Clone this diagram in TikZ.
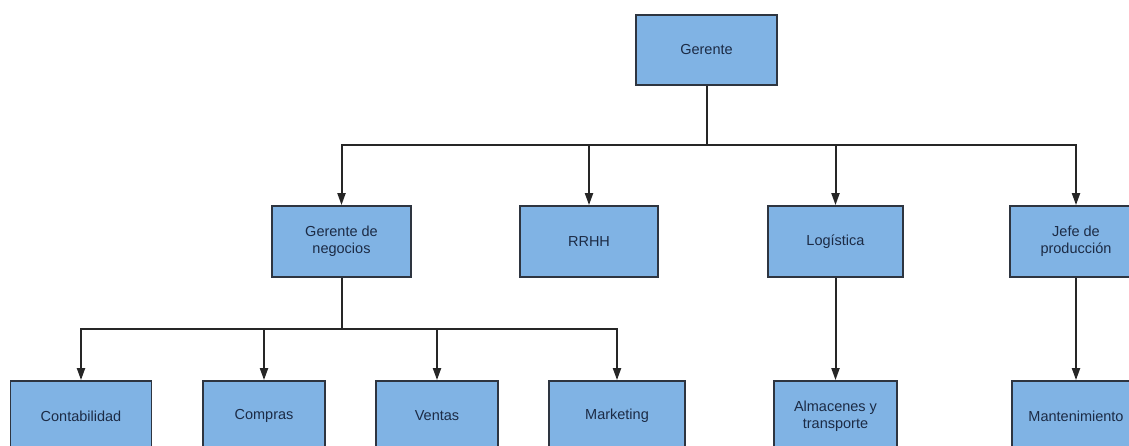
\documentclass[tikz,border=0pt]{standalone}
\usepackage{fontspec}
\setmainfont{Liberation Sans}
\usetikzlibrary{arrows.meta}
\definecolor{boxfill}{HTML}{80B3E4}
\definecolor{boxline}{HTML}{2E3540}
\definecolor{boxtext}{HTML}{1C2B45}
\tikzset{
  orgbox/.style={draw=boxline, line width=1.8pt, fill=boxfill, text=boxtext,
    align=center, inner sep=0pt, font=\fontsize{14.5}{17}\selectfont},
  conn/.style={line width=2pt, draw=black!85, -{Triangle[length=12pt,width=8pt]}},
  plain/.style={line width=2pt, draw=black!85}
}
\begin{document}
\begin{tikzpicture}[x=1pt,y=-1pt]
\useasboundingbox (0,0) rectangle (1129,446);
\clip (0,0) rectangle (1129,446);
% level 1
\node[orgbox, minimum width=141pt, minimum height=70pt] (ger) at (706.5,50) {Gerente};
% level 2
\node[orgbox, minimum width=139pt, minimum height=71pt] (gdn) at (341.5,241.5) {Gerente de\\negocios};
\node[orgbox, minimum width=138pt, minimum height=71pt] (rrhh) at (589,241.5) {RRHH};
\node[orgbox, minimum width=135pt, minimum height=71pt] (log) at (835.5,241.5) {Logística};
\node[orgbox, minimum width=132pt, minimum height=71pt] (jefe) at (1076,241.5) {Jefe de\\producción};
% level 3 (bottoms run off the picture)
\node[orgbox, minimum width=141pt, minimum height=70pt] (cont) at (81,416) {Contabilidad};
\node[orgbox, minimum width=122pt, minimum height=70pt] (comp) at (264,416) {Compras};
\node[orgbox, minimum width=122pt, minimum height=70pt] (vent) at (437,416) {Ventas};
\node[orgbox, minimum width=136pt, minimum height=70pt] (mark) at (617,416) {Marketing};
\node[orgbox, minimum width=123pt, minimum height=70pt] (alm) at (835.5,416) {Almacenes y\\transporte};
\node[orgbox, minimum width=128pt, minimum height=70pt] (mant) at (1076,416) {Mantenimiento};
% buses
\coordinate (bus1) at (706.5,145);
\coordinate (bus2) at (341.5,329);
\draw[plain] (ger.south) -- (bus1);
\draw[conn] (bus1) -| (gdn.north);
\draw[conn] (bus1) -| (rrhh.north);
\draw[conn] (bus1) -| (log.north);
\draw[conn] (bus1) -| (jefe.north);
\draw[plain] (gdn.south) -- (bus2);
\draw[conn] (bus2) -| (cont.north);
\draw[conn] (bus2) -| (comp.north);
\draw[conn] (bus2) -| (vent.north);
\draw[conn] (bus2) -| (mark.north);
\draw[conn] (log.south) -- (alm.north);
\draw[conn] (jefe.south) -- (mant.north);
\end{tikzpicture}
\end{document}
